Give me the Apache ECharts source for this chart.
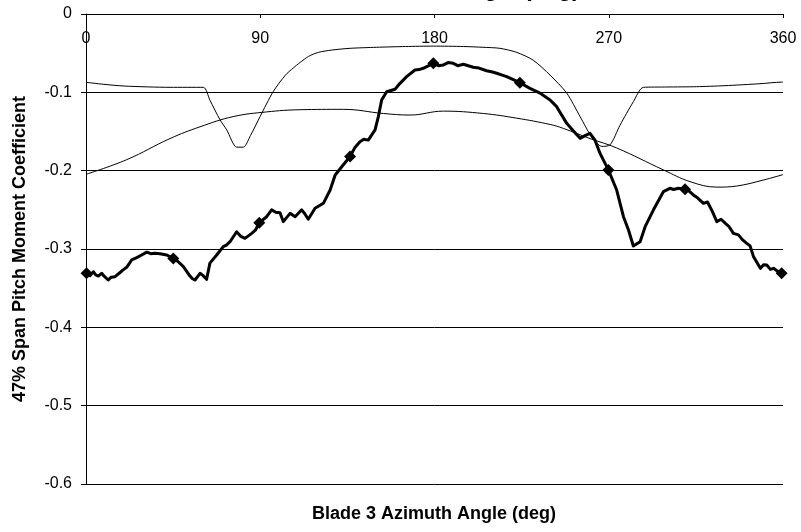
<!DOCTYPE html>
<html>
<head>
<meta charset="utf-8">
<script src="https://cdn.jsdelivr.net/npm/echarts@6/dist/echarts.min.js"></script>
<style>html,body{margin:0;padding:0;background:#fff}#c{width:801px;height:532px}</style>
</head>
<body>
<div id="c"></div>
<script>
// Thin curve A (angle, coefficient)
var angA = [0, 8.9, 20, 43.4, 60.6, 64, 69.2, 72.7, 77.8, 81.3, 85, 89.9, 96.7, 103, 107, 110.5, 115, 120, 127, 136.4, 150, 165, 179.4, 195, 205, 213.8, 222.5, 231, 239.7, 248.3, 255.2, 261.2, 266.4, 270.7, 275.8, 282.7, 287.9, 300, 315.4, 330, 348.1, 359.3, 360];
var valA = [-0.0872, -0.0897, -0.092, -0.0936, -0.0936, -0.110, -0.135, -0.148, -0.170, -0.170, -0.155, -0.131, -0.099, -0.078, -0.069, -0.062, -0.054, -0.049, -0.046, -0.0438, -0.0425, -0.0415, -0.041, -0.0415, -0.0425, -0.0438, -0.049, -0.059, -0.078, -0.101, -0.131, -0.157, -0.169, -0.167, -0.142, -0.112, -0.0936, -0.0932, -0.0928, -0.0915, -0.089, -0.087, -0.087];
// Thin curve B
var angB = [0, 21, 43.4, 58.9, 76, 93.3, 110.5, 132.9, 153.6, 167.3, 184.6, 205.2, 222.5, 239.7, 246.5, 260.3, 274.1, 298.2, 312, 325.8, 336.1, 349.8, 360];
var valB = [-0.2047, -0.186, -0.159, -0.144, -0.131, -0.125, -0.1222, -0.1217, -0.127, -0.129, -0.124, -0.127, -0.133, -0.141, -0.146, -0.159, -0.171, -0.199, -0.214, -0.221, -0.2196, -0.212, -0.205];
// Thick measured curve C
var angC = [0.3, 2, 3.8, 5, 6.4, 8.1, 9.5, 11.5, 13, 15, 17.6, 19, 21, 22.5, 23.6, 26.2, 28.5, 31.4, 33.5, 35.6, 38.2, 41.7, 45.1, 47.5, 50.3, 53.7, 55, 56.3, 58.9, 60.5, 62.3, 64, 67.5, 70.9, 72.5, 74.4, 77.8, 80, 82.1, 85.6, 87.5, 89.5, 93.3, 95.9, 98, 100.2, 101.9, 105.4, 108, 111.4, 113, 114.8, 118.3, 122.6, 126.1, 128.7, 132.1, 136.4, 139, 141.5, 143.5, 145.8, 149.3, 151, 152.7, 155.3, 159.6, 162.2, 165.6, 169.9, 172, 174.2, 179.4, 182, 184.6, 187, 189.7, 192, 194.9, 200, 203, 206.9, 210, 212.1, 215, 217.3, 224.1, 229.3, 234.5, 239.7, 243.1, 248.3, 252, 255.2, 258, 260.3, 262.9, 265.5, 269.8, 274.1, 277.6, 280.2, 282.7, 286.2, 288.8, 293.1, 298.2, 301.6, 303.5, 305.9, 309.4, 311.5, 313.7, 316, 318.9, 321, 323.5, 325.8, 328, 330.1, 332, 334.4, 337, 339, 341.3, 343, 344.8, 348.3, 350, 351.6, 353.5, 355.1, 357, 359.3];
var valC = [-0.331, -0.334, -0.329, -0.333, -0.3345, -0.331, -0.335, -0.3396, -0.336, -0.3353, -0.330, -0.327, -0.3234, -0.318, -0.314, -0.311, -0.308, -0.304, -0.306, -0.3055, -0.306, -0.3077, -0.312, -0.316, -0.3226, -0.3345, -0.338, -0.3396, -0.331, -0.334, -0.3387, -0.318, -0.3077, -0.297, -0.295, -0.2907, -0.278, -0.284, -0.2864, -0.280, -0.276, -0.2664, -0.2588, -0.250, -0.253, -0.2536, -0.265, -0.2545, -0.2588, -0.250, -0.255, -0.262, -0.248, -0.2417, -0.2247, -0.2055, -0.195, -0.182, -0.170, -0.163, -0.160, -0.161, -0.148, -0.131, -0.1098, -0.0992, -0.096, -0.0885, -0.080, -0.0715, -0.071, -0.0693, -0.063, -0.066, -0.065, -0.062, -0.063, -0.066, -0.0642, -0.068, -0.069, -0.0724, -0.074, -0.0757, -0.078, -0.080, -0.0877, -0.0949, -0.101, -0.1098, -0.1183, -0.1396, -0.150, -0.1587, -0.155, -0.1523, -0.161, -0.178, -0.199, -0.2247, -0.2588, -0.2758, -0.2962, -0.2907, -0.2715, -0.250, -0.2268, -0.2225, -0.224, -0.2225, -0.2238, -0.226, -0.231, -0.235, -0.2417, -0.240, -0.252, -0.265, -0.262, -0.267, -0.271, -0.280, -0.282, -0.288, -0.2928, -0.296, -0.310, -0.3247, -0.320, -0.3205, -0.326, -0.3247, -0.328, -0.331];
// Diamond markers on curve C
var markAng = [0.3, 45.1, 89.5, 136.4, 179.4, 224.1, 269.8, 309.4, 359.3];
var markVal = [-0.331, -0.312, -0.2664, -0.182, -0.063, -0.0877, -0.199, -0.2238, -0.331];
// Axis ticks
var xTicks = [0, 90, 180, 270, 360];
var yTicks = [0, -0.1, -0.2, -0.3, -0.4, -0.5, -0.6];
var xTitle = 'Blade 3 Azimuth Angle (deg)';
var yTitle = '47% Span Pitch Moment Coefficient';

function pairs(a, b) { return a.map(function (v, i) { return [v, b[i]]; }); }

var FONT = 'Arial, "Liberation Sans", sans-serif';
var chart = echarts.init(document.getElementById('c'), null, { renderer: 'canvas' });
chart.setOption({
  animation: false,
  backgroundColor: '#fff',
  grid: { left: 86, right: 18, top: 14, bottom: 48, containLabel: false },
  xAxis: {
    type: 'value', position: 'top', min: xTicks[0], max: xTicks[xTicks.length - 1], interval: 90,
    axisLine: { show: true, onZero: false, lineStyle: { color: '#000', width: 1 } },
    axisTick: { show: true, inside: true, length: 4, lineStyle: { color: '#000' } },
    axisLabel: { inside: true, margin: 17, color: '#000', fontSize: 16, fontFamily: FONT },
    splitLine: { show: false }
  },
  yAxis: {
    type: 'value', min: yTicks[yTicks.length - 1], max: yTicks[0], interval: 0.1,
    axisLine: { show: true, lineStyle: { color: '#000', width: 1 } },
    axisTick: { show: true, length: 5, lineStyle: { color: '#000' } },
    axisLabel: { margin: 14, color: '#000', fontSize: 16, fontFamily: FONT,
      formatter: function (v) { return Math.abs(v) < 1e-9 ? '0' : v.toFixed(1); } },
    splitLine: { show: true, lineStyle: { color: '#000', width: 1 } }
  },
  series: [
    { type: 'line', data: pairs(angA, valA), smooth: 0.25, symbol: 'none',
      lineStyle: { color: '#000', width: 1 } },
    { type: 'line', data: pairs(angB, valB), smooth: 0.4, symbol: 'none',
      lineStyle: { color: '#000', width: 1 } },
    { type: 'line', data: pairs(angC, valC), smooth: false, symbol: 'none',
      lineStyle: { color: '#000', width: 3, join: 'round' } },
    { type: 'scatter', data: pairs(markAng, markVal), symbol: 'diamond', symbolSize: 12,
      itemStyle: { color: '#000', opacity: 1 } }
  ],
  graphic: [
    { type: 'text', x: 434, y: 514,
      style: { text: xTitle, x: 0, y: 0, align: 'center', verticalAlign: 'middle', font: 'bold 18px ' + FONT, fill: '#000' } },
    { type: 'text', rotation: Math.PI / 2, x: 20, y: 249,
      style: { text: yTitle, x: 0, y: 0, align: 'center', verticalAlign: 'middle', font: 'bold 18px ' + FONT, fill: '#000' } },
    { type: 'text', x: 580, y: -10,
      style: { text: xTitle, x: 0, y: 0, align: 'right', verticalAlign: 'middle', font: 'bold 23px ' + FONT, fill: '#000' } }
  ]
});
</script>
</body>
</html>
